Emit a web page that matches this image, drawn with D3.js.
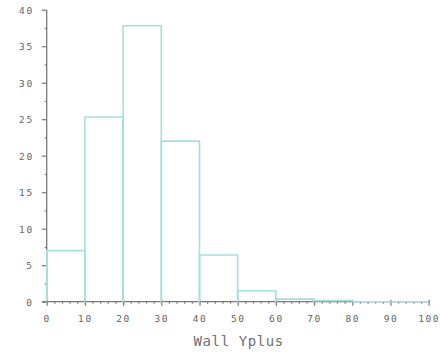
<!DOCTYPE html>
<html>
<head>
<meta charset="utf-8">
<script src="https://cdn.jsdelivr.net/npm/d3@7/dist/d3.min.js"></script>
<style>
  html, body { margin: 0; padding: 0; background: #fff; }
  svg { display: block; }
  .tick text { font-family: "DejaVu Sans Mono", monospace; font-size: 9.5px; letter-spacing: 1.6px; fill: #646464; }
</style>
</head>
<body>
<svg id="chart" width="440" height="355"></svg>
<script>
// Histogram of wall y+ values, bins of width 10
const binStarts = [0, 10, 20, 30, 40, 50, 60, 70, 80, 90];
const binWidth = 10;
const counts = [7.0, 25.3, 37.8, 22.0, 6.4, 1.5, 0.35, 0.15, 0, 0];
const xTicks = [0, 10, 20, 30, 40, 50, 60, 70, 80, 90, 100];
const yTicks = [0, 5, 10, 15, 20, 25, 30, 35, 40];
const xTitle = "Wall Yplus";

const svg = d3.select("#chart");
const margin = { left: 46.7, right: 11.3, top: 9.7, bottom: 53.3 };
const W = 440, H = 355;

const x = d3.scaleLinear().domain([0, 100]).range([margin.left, W - margin.right]);
const y = d3.scaleLinear().domain([0, 40]).range([H - margin.bottom, margin.top]);

const axisColor = "#7a7a7a";
const barColor = "#a6dedd";

// y axis with major and minor ticks
const gy = svg.append("g").attr("transform", `translate(${x(0)},0)`);
gy.call(d3.axisLeft(y).tickValues(yTicks).tickSize(5).tickPadding(8).tickFormat(d3.format("d")));
gy.append("g").call(d3.axisLeft(y).tickValues(d3.range(2.5, 40, 5)).tickSize(2).tickFormat(""))
  .select(".domain").remove();
gy.selectAll(".domain").attr("stroke", axisColor).attr("stroke-width", 1.3).attr("d", `M0,${y(0)}V${y(40)}`);
gy.selectAll(".tick line").attr("stroke", axisColor).attr("stroke-width", 1.2);
gy.selectAll(".tick text").attr("dy", "0.35em");

// x axis with major and minor ticks
const gx = svg.append("g").attr("transform", `translate(0,${y(0)})`);
gx.call(d3.axisBottom(x).tickValues(xTicks).tickSize(4).tickPadding(10).tickFormat(d3.format("d")));
gx.append("g").call(d3.axisBottom(x).tickValues(d3.range(0, 101, 2).filter(v => v % 10)).tickSize(2).tickFormat(""))
  .select(".domain").remove();
gx.selectAll(".domain").attr("stroke", axisColor).attr("stroke-width", 1.3).attr("d", `M${x(0) - 4},0H${x(100)}`);
gx.selectAll(".tick line").attr("stroke", axisColor).attr("stroke-width", 1.2);
gx.selectAll(".tick line").filter(function () { return +this.getAttribute("y2") === 4; }).attr("y1", -2);

// bar outlines: left side, top, right side
svg.append("g").selectAll("path")
  .data(counts)
  .join("path")
  .attr("d", (d, i) => {
    const x0 = x(binStarts[i]), x1 = x(binStarts[i] + binWidth);
    return `M${x0},${y(0)}V${y(d)}H${x1}V${y(0)}`;
  })
  .attr("fill", "none")
  .attr("stroke", barColor)
  .attr("stroke-width", 1.6);

// axis title
svg.append("text")
  .attr("x", (x(0) + x(100)) / 2 + 1)
  .attr("y", 346)
  .attr("text-anchor", "middle")
  .attr("font-family", "DejaVu Sans Mono, monospace")
  .attr("font-size", 14)
  .attr("letter-spacing", 0.6)
  .attr("fill", "#707070")
  .text(xTitle);
</script>
</body>
</html>
